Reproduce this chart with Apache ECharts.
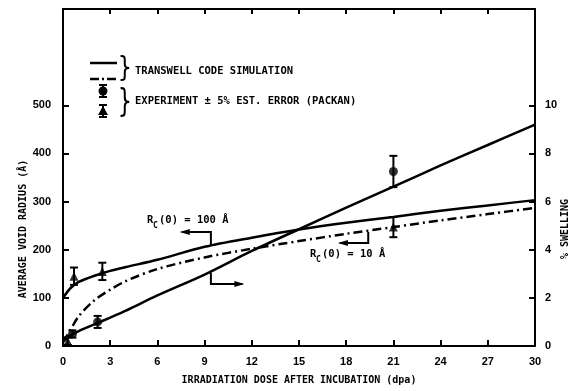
<!DOCTYPE html>
<html><head><meta charset="utf-8">
<script src="https://cdn.jsdelivr.net/npm/echarts@6/dist/echarts.min.js"></script>
<style>html,body{margin:0;padding:0;background:#fff}#c{width:574px;height:391px}</style>
</head><body><div id="c"></div>
<script>
// ---- simulated curves (TRANSWELL code) ----
const dose = [0, 0.5, 1, 2, 3, 4, 6, 9, 12, 15, 18, 21, 24, 27, 30];
const radiusRc100 = [100, 121, 133, 146, 156, 164, 179, 206, 225, 242, 256, 268, 281, 292, 303];
const radiusRc10 = [8, 35, 62, 95, 117, 135, 160, 184, 202, 218, 233, 247, 261, 274, 287];
const swellingSim = [0.2, 0.45, 0.62, 0.9, 1.18, 1.47, 2.1, 2.97, 3.95, 4.85, 5.75, 6.62, 7.5, 8.35, 9.2];
// ---- experiment (PACKAN) ----
const expSwellDose = [0.6, 2.2, 21];
const expSwell = [0.5, 1.0, 7.25];
const expSwellErr = [0.15, 0.25, 0.65];
const expRadDose = [0.3, 0.7, 2.5, 21];
const expRad = [10, 145, 155, 247];
const expRadErr = [8, 18, 18, 21];
// ---- ticks ----
const xTicks = [0, 3, 6, 9, 12, 15, 18, 21, 24, 27, 30];
const leftTicks = [0, 100, 200, 300, 400, 500];
const rightTicks = [0, 2, 4, 6, 8, 10];
// ---- texts ----
const xTitle = 'IRRADIATION DOSE AFTER INCUBATION (dpa)';
const leftTitle = 'AVERAGE VOID RADIUS (Å)';
const rightTitle = '% SWELLING';
const legendSim = 'TRANSWELL CODE SIMULATION';
const legendExp = 'EXPERIMENT ± 5% EST. ERROR (PACKAN)';

const MONO = "'DejaVu Sans Mono', monospace";
const NUM = "'Liberation Sans Narrow', 'Liberation Sans', sans-serif";

const chart = echarts.init(document.getElementById('c'), null, {renderer: 'canvas'});

const pairs = (xs, ys) => xs.map((x, i) => [x, ys[i]]);
const triples = (xs, ys, es) => xs.map((x, i) => [x, ys[i], es[i]]);

function errRender(params, api) {
  const x = api.value(0), y = api.value(1), e = api.value(2);
  const t = api.coord([x, y + e]), b = api.coord([x, y - e]);
  const w = 4;
  const st = {stroke: '#000', lineWidth: 2};
  return {type: 'group', children: [
    {type: 'line', shape: {x1: t[0], y1: t[1], x2: b[0], y2: b[1]}, style: st},
    {type: 'line', shape: {x1: t[0] - w, y1: t[1], x2: t[0] + w, y2: t[1]}, style: st},
    {type: 'line', shape: {x1: b[0] - w, y1: b[1], x2: b[0] + w, y2: b[1]}, style: st}
  ]};
}

const axisLine = {show: true, onZero: false, lineStyle: {color: '#000', width: 2}};
const tick = {show: true, inside: true, length: 6, lineStyle: {color: '#000', width: 2}};
const labelStyle = {color: '#000', fontFamily: NUM, fontWeight: 'bold', fontSize: 11};

const option = {
  animation: false,
  backgroundColor: '#fff',
  grid: {left: 63, right: 39, top: 9, bottom: 45},
  xAxis: [
    {type: 'value', position: 'bottom', min: 0, max: 30, interval: 3,
     axisLine, axisTick: tick, splitLine: {show: false},
     axisLabel: Object.assign({margin: 10}, labelStyle),
     name: xTitle, nameLocation: 'middle', nameGap: 29,
     nameTextStyle: {color: '#000', fontFamily: MONO, fontWeight: 'bold', fontSize: 10}},
    {type: 'value', position: 'top', min: 0, max: 30, interval: 3,
     axisLine, axisTick: Object.assign({}, tick, {length: 5}), splitLine: {show: false},
     axisLabel: {show: false}}
  ],
  yAxis: [
    {type: 'value', position: 'left', min: 0, max: 700, interval: 100,
     axisLine, axisTick: Object.assign({customValues: leftTicks}, tick), splitLine: {show: false},
     axisLabel: Object.assign({margin: 12, customValues: leftTicks}, labelStyle)},
    {type: 'value', position: 'right', min: 0, max: 14, interval: 2,
     axisLine, axisTick: Object.assign({customValues: rightTicks}, tick), splitLine: {show: false},
     axisLabel: Object.assign({margin: 10, customValues: rightTicks}, labelStyle)}
  ],
  series: [
    {type: 'line', name: 'Rc100', xAxisIndex: 0, yAxisIndex: 0, data: pairs(dose, radiusRc100),
     smooth: 0.3, symbol: 'none', lineStyle: {color: '#000', width: 2.5}},
    {type: 'line', name: 'Rc10', xAxisIndex: 0, yAxisIndex: 0, data: pairs(dose, radiusRc10),
     smooth: 0.3, symbol: 'none', lineStyle: {color: '#000', width: 2.5, type: [9, 4, 2, 4]}},
    {type: 'line', name: 'swelling', xAxisIndex: 0, yAxisIndex: 1, data: pairs(dose, swellingSim),
     smooth: 0.3, symbol: 'none', lineStyle: {color: '#000', width: 2.5}},
    {type: 'custom', name: 'swellErr', xAxisIndex: 0, yAxisIndex: 1, data: triples(expSwellDose, expSwell, expSwellErr),
     renderItem: errRender, encode: {x: 0, y: 1}, z: 3},
    {type: 'custom', name: 'radErr', xAxisIndex: 0, yAxisIndex: 0, data: triples(expRadDose, expRad, expRadErr),
     renderItem: errRender, encode: {x: 0, y: 1}, z: 3},
    {type: 'scatter', name: 'swellExp', xAxisIndex: 0, yAxisIndex: 1, data: pairs(expSwellDose, expSwell),
     symbol: 'circle', symbolSize: 9, itemStyle: {color: '#000'}, z: 4},
    {type: 'scatter', name: 'radExp', xAxisIndex: 0, yAxisIndex: 0, data: pairs(expRadDose, expRad),
     symbol: 'triangle', symbolSize: 9, itemStyle: {color: '#000'}, z: 4},
    {type: 'line', name: 'topFrame', xAxisIndex: 1, yAxisIndex: 0, data: [], symbol: 'none'}
  ]
};
chart.setOption(option);

// ---- annotations (in data coordinates, left axis units) ----
const annArrows = [
  {pts: [[9.4, 210], [9.4, 237], [7.55, 237]]},
  {pts: [[9.4, 152], [9.4, 129], [11.4, 129]]},
  {pts: [[19.4, 237], [19.4, 214], [17.6, 214]]}
];
const annLabels = [
  {at: [5.34, 261], num: '(0) = 100 Å'},
  {at: [15.7, 191], num: '(0) = 10 Å'}
];

const P = (p) => chart.convertToPixel({xAxisIndex: 0, yAxisIndex: 0}, p);
const g = [];
const black = {stroke: '#000', lineWidth: 2};
annArrows.forEach(a => {
  const px = a.pts.map(P);
  g.push({type: 'polyline', shape: {points: px}, style: Object.assign({fill: null}, black), z: 10});
  const e = px[px.length - 1], s = px[px.length - 2];
  const dir = Math.sign(e[0] - s[0]);
  g.push({type: 'polygon', shape: {points: [[e[0] + dir * 2, e[1]], [e[0] - dir * 8, e[1] - 3], [e[0] - dir * 8, e[1] + 3]]},
          style: {fill: '#000'}, z: 10});
});
const tfont = {fill: '#000', fontFamily: MONO, fontWeight: 'bold', fontSize: 10.5};
annLabels.forEach(l => {
  const p = P(l.at);
  g.push({type: 'text', x: p[0], y: p[1], style: Object.assign({text: 'R', verticalAlign: 'middle', align: 'left'}, tfont), z: 10});
  g.push({type: 'text', x: p[0] + 6, y: p[1] + 6, style: Object.assign({}, tfont, {text: 'C', fontSize: 8, verticalAlign: 'middle', align: 'left'}), z: 10});
  g.push({type: 'text', x: p[0] + 12, y: p[1], style: Object.assign({text: l.num, verticalAlign: 'middle', align: 'left'}, tfont), z: 10});
});

// ---- legend (drawn) ----
g.push({type: 'line', shape: {x1: 90, y1: 63, x2: 117, y2: 63}, style: {stroke: '#000', lineWidth: 2.5}});
g.push({type: 'line', shape: {x1: 90, y1: 79, x2: 117, y2: 79}, style: {stroke: '#000', lineWidth: 2.5, lineDash: [9, 3, 2, 3]}});
function legErr(cx, cy, h) {
  g.push({type: 'line', shape: {x1: cx, y1: cy - h, x2: cx, y2: cy + h}, style: black});
  g.push({type: 'line', shape: {x1: cx - 4, y1: cy - h, x2: cx + 4, y2: cy - h}, style: black});
  g.push({type: 'line', shape: {x1: cx - 4, y1: cy + h, x2: cx + 4, y2: cy + h}, style: black});
}
legErr(103, 91, 6);
g.push({type: 'circle', shape: {cx: 103, cy: 91, r: 4.5}, style: {fill: '#000'}});
legErr(103, 111, 6);
g.push({type: 'polygon', shape: {points: [[103, 106], [108, 115], [98, 115]]}, style: {fill: '#000'}});
g.push({type: 'text', x: 125, y: 70, scaleX: 0.8, style: {text: '}', fill: '#000', fontFamily: "'DejaVu Sans'", fontSize: 28, verticalAlign: 'middle', align: 'center'}});
g.push({type: 'text', x: 125, y: 103, scaleX: 0.8, scaleY: 1.15, style: {text: '}', fill: '#000', fontFamily: "'DejaVu Sans'", fontSize: 28, verticalAlign: 'middle', align: 'center'}});
g.push({type: 'text', x: 135, y: 71, style: Object.assign({text: legendSim, verticalAlign: 'middle', align: 'left'}, tfont)});
g.push({type: 'text', x: 135, y: 101, style: Object.assign({text: legendExp, verticalAlign: 'middle', align: 'left'}, tfont)});

// ---- axis titles ----
g.push({type: 'text', x: 23, y: 229, rotation: Math.PI / 2, style: Object.assign({text: leftTitle, verticalAlign: 'middle', align: 'center'}, tfont, {fontSize: 10})});
g.push({type: 'text', x: 565, y: 229, rotation: Math.PI / 2, style: Object.assign({text: rightTitle, verticalAlign: 'middle', align: 'center'}, tfont, {fontSize: 10})});

chart.setOption({graphic: g});
</script></body></html>
